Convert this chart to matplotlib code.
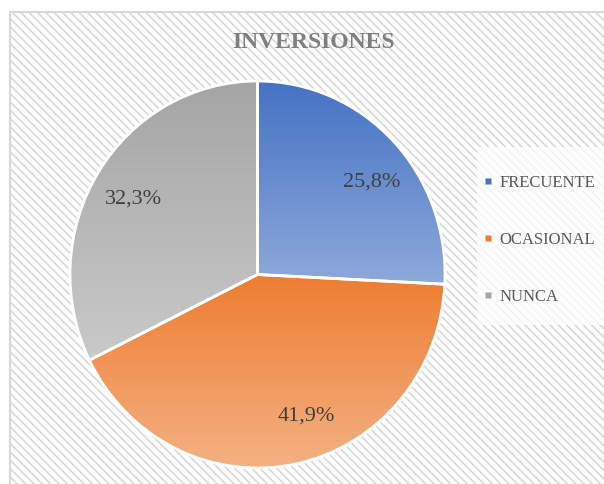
import matplotlib.pyplot as plt
import numpy as np
from matplotlib.colors import LinearSegmentedColormap
from matplotlib.patches import Rectangle
from matplotlib.lines import Line2D

categories = ['FRECUENTE', 'OCASIONAL', 'NUNCA']
percentages = [25.8, 41.9, 32.3]
title = 'INVERSIONES'

top_colors = ['#4472C4', '#ED7D31', '#A5A5A5']
bottom_colors = ['#8EA9DB', '#F4B183', '#C9C9C9']
legend_colors = ['#4472C4', '#ED7D31', '#A5A5A5']

W, H = 604, 484
SERIF = ['Liberation Serif', 'DejaVu Serif']
plt.rcParams['font.family'] = SERIF
plt.rcParams['hatch.linewidth'] = 1.2
plt.rcParams['hatch.color'] = '#E2E2E2'

fig = plt.figure(figsize=(W / 100, H / 100), dpi=100)

# chart area: hatched background with light border (bottom/right run off the image)
bg = Rectangle((10 / W, -0.05), 1.05, 1 - 12 / H + 0.05, transform=fig.transFigure,
               facecolor='white', edgecolor='#D9D9D9', linewidth=1.5, hatch='\\\\\\\\',
               zorder=-2)
fig.patches.append(bg)

# pie axes (Excel draws it slightly stretched vertically)
cx, cy, rx, ry = 257.5, 274.5, 187.5, 193.5
pad = 1.1
ax = fig.add_axes([(cx - rx * pad) / W, (H - cy - ry * pad) / H,
                   2 * rx * pad / W, 2 * ry * pad / H])
ax.patch.set_visible(False)

wedges, texts, autotexts = ax.pie(
    percentages, startangle=90, counterclock=False, colors=top_colors,
    autopct=lambda p: f'{p:.1f}%'.replace('.', ','), pctdistance=0.78,
    wedgeprops=dict(edgecolor='white', linewidth=2),
    textprops=dict(fontsize=16, color='#404040', family=SERIF))

# vertical gradient fill per slice, clipped to the slice shape
for w, c_top, c_bot in zip(wedges, top_colors, bottom_colors):
    ext = w.get_path().get_extents()
    cmap = LinearSegmentedColormap.from_list('g', [c_bot, c_top])
    grad = np.linspace(0, 1, 256).reshape(-1, 1)
    im = ax.imshow(grad, cmap=cmap, origin='lower', aspect='auto',
                   extent=[ext.x0, ext.x1, ext.y0, ext.y1], zorder=0.5,
                   interpolation='bilinear')
    im.set_clip_path(w)
    w.set_facecolor('none')
    w.set_zorder(1)

# Excel's label placement differs a bit from matplotlib's
label_shift = [(0.045, -0.06), (0.10, 0.03), (0.0, -0.02)]
for t, (dx, dy) in zip(autotexts, label_shift):
    x, y = t.get_position()
    t.set_position((x + dx, y + dy))
    t.set_family(SERIF)
    t.set_zorder(3)

ax.set_xlim(-pad, pad)
ax.set_ylim(-pad, pad)
ax.set_aspect('auto')
ax.axis('off')

fig.text(313 / W, 1 - 42 / H, title, ha='center', va='center', fontsize=17,
         fontweight='bold', color='#7F7F7F')

# legend with lighter backing box
fig.patches.append(Rectangle((477 / W, 1 - 325 / H), (W - 477) / W, 178 / H,
                             transform=fig.transFigure, facecolor='white',
                             alpha=0.75, edgecolor='none', zorder=-1))
handles = [Line2D([], [], marker='s', linestyle='none', markersize=5,
                  markerfacecolor=c, markeredgecolor='none') for c in legend_colors]
leg = fig.legend(handles, categories, loc='center left',
                 bbox_to_anchor=(484 / W, 1 - 240 / H), frameon=False,
                 fontsize=12, labelcolor='#595959', handlelength=0.5,
                 handletextpad=0.45, labelspacing=2.45, borderpad=0,
                 borderaxespad=0)

fig.savefig('out.png', dpi=100)
